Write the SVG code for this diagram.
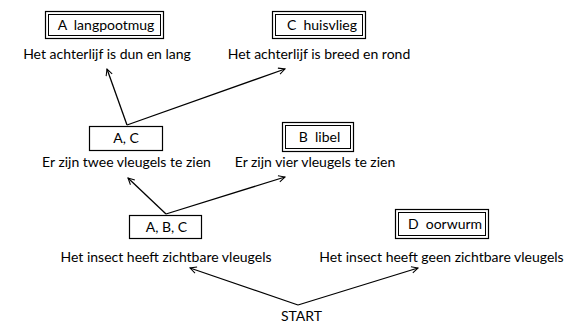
<svg xmlns="http://www.w3.org/2000/svg" width="566" height="324" viewBox="0 0 566 324">
<defs>
<style>
text{font-family:Lato,"Open Sans",sans-serif;font-size:14px;fill:#000;text-anchor:middle;white-space:pre}
.box{fill:#fff;stroke:#000;stroke-width:1.2}
.inner{fill:none;stroke:#000;stroke-width:1}
.con{stroke:#000;stroke-width:1.3;fill:none;marker-end:url(#arr)}
</style>
<marker id="arr" viewBox="0 0 10 10" refX="9" refY="5" markerWidth="8" markerHeight="8" orient="auto" markerUnits="userSpaceOnUse">
<path d="M1,1 L9,5 L1,9" fill="none" stroke="#000" stroke-width="1.3"/>
</marker>
</defs>
<rect width="566" height="324" fill="#fff"/>
<g id="connectors">
<line class="con" x1="127" y1="125" x2="107" y2="69"/>
<line class="con" x1="127" y1="125" x2="285" y2="69"/>
<line class="con" x1="166" y1="214" x2="128" y2="178"/>
<line class="con" x1="166" y1="214" x2="285" y2="177"/>
<line class="con" x1="298" y1="305" x2="190" y2="268"/>
<line class="con" x1="298" y1="305" x2="418" y2="268"/>
</g>
<g id="langpootmug">
<rect class="box" x="45.5" y="11.5" width="118" height="27"/>
<rect class="inner" x="48.5" y="14.5" width="112" height="21"/>
<text x="106" y="30" xml:space="preserve">A  langpootmug</text>
</g>
<g id="huisvlieg">
<rect class="box" x="272.5" y="11.5" width="93" height="27"/>
<rect class="inner" x="275.5" y="14.5" width="87" height="21"/>
<text x="322" y="30" xml:space="preserve">C  huisvlieg</text>
</g>
<g id="q-achterlijf-dun"><text x="107" y="59">Het achterlijf is dun en lang</text></g>
<g id="q-achterlijf-breed"><text x="319" y="59">Het achterlijf is breed en rond</text></g>
<g id="AC">
<rect class="box" x="89.5" y="126.5" width="73" height="24"/>
<text x="126" y="143">A, C</text>
</g>
<g id="libel">
<rect class="box" x="282.5" y="122.5" width="71" height="29"/>
<rect class="inner" x="285.5" y="125.5" width="65" height="23"/>
<text x="319.5" y="142" xml:space="preserve">B  libel</text>
</g>
<g id="q-twee"><text x="126.5" y="167">Er zijn twee vleugels te zien</text></g>
<g id="q-vier"><text x="315" y="167">Er zijn vier vleugels te zien</text></g>
<g id="ABC">
<rect class="box" x="129.5" y="215.5" width="72" height="23"/>
<text x="166.5" y="232">A, B, C</text>
</g>
<g id="oorwurm">
<rect class="box" x="395.5" y="209.5" width="93" height="29"/>
<rect class="inner" x="398.5" y="212.5" width="87" height="23"/>
<text x="445" y="229" xml:space="preserve">D  oorwurm</text>
</g>
<g id="q-zichtbaar"><text x="166" y="262">Het insect heeft zichtbare vleugels</text></g>
<g id="q-geen"><text x="441.5" y="262">Het insect heeft geen zichtbare vleugels</text></g>
<g id="start"><text x="301.5" y="321">START</text></g>
</svg>
